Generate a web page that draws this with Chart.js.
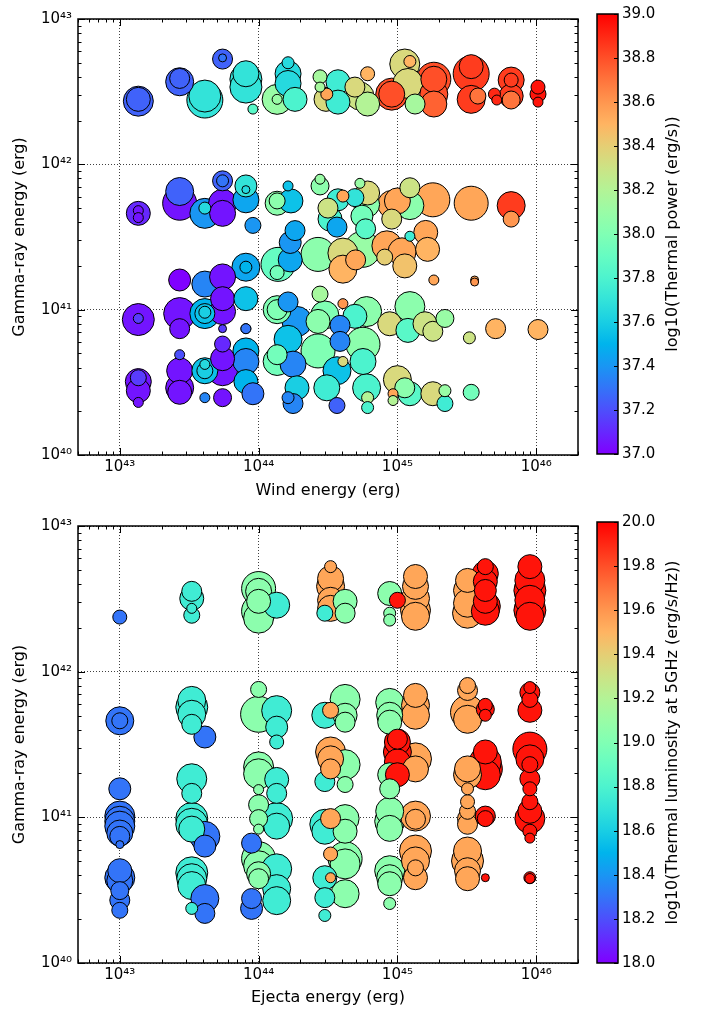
<!DOCTYPE html>
<html>
<head>
<meta charset="utf-8">
<script src="https://cdn.jsdelivr.net/npm/chart.js@4.4.1/dist/chart.umd.min.js"></script>
<style>
  html, body { margin: 0; padding: 0; background: #fff; }
  #page { position: relative; width: 703px; height: 1014px; }
  canvas { position: absolute; }
</style>
</head>
<body>
<div id="page">
  <canvas id="windChart" style="left:0;top:0" width="703" height="507"></canvas>
  <canvas id="windBar" style="left:560px;top:0" width="143" height="507"></canvas>
  <canvas id="ejectaChart" style="left:0;top:507px" width="703" height="507"></canvas>
  <canvas id="ejectaBar" style="left:560px;top:507px" width="143" height="507"></canvas>
</div>
<script>
// ---- top panel: wind energy vs gamma-ray energy, colour = log10 thermal power
var windEnergy = [
  1.36e43, 1.36e43, 2.7e43, 2.7e43, 4.1e43, 4.1e43, 5.5e43, 5.5e43, 8.1e43, 8.1e43, 8.1e43, 9.1e43,
  1.36e44, 1.36e44, 1.63e44, 1.63e44, 1.63e44, 1.83e44, 2.77e44, 2.77e44, 3.06e44, 3.1e44, 3.73e44, 3.73e44,
  4.94e44, 5.37e44, 6.1e44, 6.1e44, 9.1e44, 9.1e44, 1.13e45, 1.23e45, 1.19e45, 1.34e45,
  1.83e45, 1.83e45, 1.83e45, 1.83e45, 3.4e45, 3.4e45, 3.4e45, 3.8e45, 5.0e45, 5.2e45,
  6.6e45, 6.6e45, 6.6e45, 6.6e45, 1.03e46, 1.03e46, 1.03e46,
  1.36e43, 1.36e43, 1.36e43, 2.7e43, 2.7e43, 4.1e43, 4.1e43, 5.5e43, 5.5e43, 5.5e43, 5.5e43, 8.1e43, 8.1e43, 8.1e43, 9.1e43,
  1.36e44, 1.36e44, 1.63e44, 1.71e44, 1.83e44, 2.77e44, 2.77e44, 3.16e44, 3.73e44, 3.27e44, 4.05e44, 3.67e44, 4.94e44,
  5.55e44, 6.0e44, 6.1e44, 5.37e44, 9.1e44, 1.0e45, 9.1e44, 1.23e45, 1.23e45, 1.8e45, 3.4e45, 6.6e45, 6.6e45,
  2.7e43, 4.1e43, 5.5e43, 8.1e43, 8.1e43, 1.38e44, 1.36e44, 1.69e44, 1.69e44, 2.68e44, 4.05e44, 4.05e44,
  5.0e44, 5.6e44, 5.9e44, 8.4e44, 8.1e44, 1.08e45, 1.13e45, 1.23e45, 1.6e45, 1.65e45, 1.83e45, 3.6e45, 3.6e45,
  1.36e43, 1.36e43, 2.7e43, 2.7e43, 4.1e43, 4.1e43, 4.1e43, 5.5e43, 5.5e43, 8.1e43, 8.1e43,
  1.36e44, 1.36e44, 1.63e44, 1.89e44, 2.68e44, 3.0e44, 2.77e44, 3.86e44, 4.05e44, 4.94e44,
  6.0e44, 8.8e44, 1.19e45, 1.23e45, 1.58e45, 1.8e45, 2.2e45, 3.3e45, 5.1e45, 1.03e46,
  1.36e43, 1.36e43, 1.36e43, 1.36e43, 2.7e43, 2.7e43, 2.7e43, 2.7e43, 4.1e43, 4.1e43, 4.1e43, 4.1e43,
  5.5e43, 5.5e43, 5.5e43, 5.5e43, 5.5e43, 8.1e43, 8.1e43, 8.1e43, 8.1e43, 9.1e43, 1.36e44, 1.36e44,
  1.63e44, 1.77e44, 1.89e44, 1.63e44, 1.77e44,
  2.68e44, 3.86e44, 3.67e44, 4.05e44, 3.1e44, 3.67e44, 5.65e44, 5.65e44, 6.0e44, 6.1e44,
  6.1e44, 1.0e45, 9.3e44, 9.3e44, 1.23e45, 1.8e45, 2.2e45, 2.2e45, 3.4e45, 1.13e45
];
var gammaWind = [
  2.72e42, 2.8e42, 3.7e42, 3.9e42, 2.77e42, 2.95e42, 5.3e42, 5.4e42, 3.85e42, 3.4e42, 4.2e42, 2.4e42,
  2.8e42, 2.8e42, 4.2e42, 5.0e42, 3.6e42, 2.8e42, 4.0e42, 3.4e42, 2.8e42, 3.04e42, 3.7e42, 2.68e42,
  3.4e42, 2.95e42, 4.2e42, 2.6e42, 3.04e42, 3.04e42, 4.9e42, 5.1e42, 3.6e42, 2.6e42,
  3.85e42, 3.85e42, 3.04e42, 2.6e42, 4.2e42, 4.7e42, 2.8e42, 2.95e42, 3.04e42, 2.77e42,
  3.8e42, 3.8e42, 2.95e42, 2.77e42, 3.4e42, 3.04e42, 2.68e42,
  4.6e41, 4.8e41, 4.3e41, 5.4e41, 6.5e41, 4.6e41, 5.0e41, 7.7e41, 7.7e41, 5.4e41, 4.6e41, 7.1e41, 5.7e41, 6.7e41, 3.8e41,
  5.4e41, 5.6e41, 7.1e41, 5.6e41, 3.5e41, 7.1e41, 7.9e41, 5.0e41, 5.7e41, 4.2e41, 6.05e41, 3.7e41, 5.9e41,
  4.4e41, 5.3e41, 6.35e41, 7.4e41, 5.3e41, 5.6e41, 4.2e41, 5.2e41, 6.9e41, 5.7e41, 5.4e41, 5.2e41, 4.2e41,
  1.6e41, 1.5e41, 1.68e41, 1.96e41, 1.96e41, 2.05e41, 1.8e41, 2.9e41, 2.2e41, 2.4e41, 2.45e41, 1.9e41,
  2.2e41, 2.6e41, 3.6e41, 2.75e41, 2.3e41, 2.5e41, 2.0e41, 3.2e41, 3.4e41, 2.6e41, 1.6e41, 1.6e41, 1.55e41,
  8.55e40, 8.7e40, 9.4e40, 7.4e40, 9.4e40, 9.4e40, 9.6e40, 1.19e41, 9.7e40, 1.19e41, 7.4e40,
  1.0e41, 1.0e41, 1.13e41, 8.3e40, 8.3e40, 9.2e40, 1.28e41, 7.8e40, 1.1e41, 9.0e40,
  9.7e40, 8.0e40, 7.2e40, 1.05e41, 8.0e40, 7.1e40, 8.7e40, 6.4e40, 7.4e40, 7.3e40,
  3.2e40, 3.4e40, 2.77e40, 2.3e40, 4.9e40, 3.8e40, 2.9e40, 2.7e40, 3.8e40, 3.8e40, 4.2e40, 2.48e40,
  7.4e40, 5.8e40, 4.6e40, 3.8e40, 2.48e40, 5.2e40, 4.4e40, 3.2e40, 7.4e40, 2.64e40, 4.4e40, 4.9e40,
  6.25e40, 4.22e40, 2.9e40, 2.48e40, 2.26e40,
  5.2e40, 6.05e40, 3.8e40, 4.4e40, 2.9e40, 2.19e40, 5.78e40, 4.4e40, 2.9e40, 2.48e40,
  2.12e40, 3.3e40, 2.64e40, 2.37e40, 2.64e40, 2.64e40, 2.77e40, 2.26e40, 2.7e40, 2.9e40
];
var sizeWind = [
  15, 12, 14, 10, 18, 16, 10, 4, 16, 16, 13, 5,
  15, 5, 13, 6, 13, 12, 7, 5, 12, 6, 12, 12,
  10, 14, 7, 12, 16, 13, 15, 6, 15, 10,
  17, 13, 14, 13, 18, 12, 14, 8, 6, 5,
  13, 7, 12, 9, 7, 8, 5,
  12, 5, 5, 17, 14, 15, 6, 10, 6, 14, 13, 11, 13, 4, 8,
  12, 8, 5, 12, 10, 9, 5, 10, 11, 12, 6, 10, 9,
  11, 13, 12, 5, 14, 13, 10, 14, 10, 17, 17, 14, 8,
  11, 13, 13, 14, 6, 17, 7, 11, 12, 17, 15, 14,
  10, 18, 10, 15, 8, 14, 12, 5, 12, 12, 5, 4, 4,
  16, 5, 16, 10, 15, 10, 6, 12, 13, 12, 5,
  14, 10, 10, 15, 12, 14, 8, 10, 5, 12,
  15, 12, 12, 15, 12, 10, 9, 6, 10, 10,
  13, 8, 12, 5, 5, 13, 14, 12, 13, 8, 5, 5,
  4, 8, 12, 15, 9, 13, 13, 12, 5, 11, 14, 10,
  14, 13, 12, 6, 10,
  17, 10, 14, 5, 13, 8, 17, 13, 14, 6,
  6, 14, 5, 5, 12, 12, 6, 8, 8, 10
];
var thermalPower = [
  37.25, 37.25, 37.25, 37.25, 37.7, 37.7, 37.25, 37.3, 37.7, 37.7, 37.7, 37.85,
  38.1, 38.1, 37.65, 37.65, 37.65, 37.8, 38.15, 38.15, 38.35, 38.55, 37.75, 37.75,
  38.35, 38.3, 38.5, 38.2, 38.8, 38.8, 38.35, 38.5, 38.35, 38.15,
  38.8, 38.8, 38.8, 38.75, 38.85, 38.85, 38.85, 38.7, 38.9, 38.9,
  38.85, 38.85, 38.85, 38.7, 38.95, 38.95, 38.95,
  37.1, 37.05, 37.05, 37.05, 37.25, 37.4, 37.65, 37.25, 37.3, 37.05, 37.05, 37.7, 37.45, 37.65, 37.4,
  38.05, 38.05, 37.55, 37.55, 37.45, 38.05, 38.1, 38.3, 37.75, 37.8, 38.55, 37.45, 37.7,
  37.95, 38.05, 38.35, 38.1, 38.55, 38.55, 38.35, 38.05, 38.3, 38.55, 38.55, 38.85, 38.6,
  37.0, 37.35, 37.05, 37.45, 37.5, 37.9, 37.95, 37.4, 37.45, 38.05, 38.35, 38.5,
  38.55, 38.1, 37.85, 38.55, 38.4, 38.55, 38.45, 37.75, 38.55, 38.5, 38.55, 38.55, 38.6,
  37.05, 37.15, 37.05, 37.05, 37.5, 37.55, 37.6, 37.05, 37.05, 37.55, 37.4,
  38.0, 38.0, 37.4, 37.4, 38.05, 38.0, 38.15, 37.35, 38.6, 37.8,
  38.05, 38.35, 37.85, 38.05, 38.3, 38.3, 38.1, 38.3, 38.5, 38.5,
  37.05, 37.15, 37.05, 37.05, 37.2, 37.05, 37.05, 37.05, 37.55, 37.6, 37.65, 37.35,
  37.15, 37.1, 37.05, 37.05, 37.05, 37.5, 37.35, 37.5, 37.3, 37.3, 37.95, 37.95,
  37.55, 37.35, 37.6, 37.35, 37.35,
  38.0, 37.35, 37.55, 38.35, 37.75, 37.25, 38.05, 37.8, 37.8, 38.2,
  37.8, 38.35, 38.55, 38.2, 37.85, 38.35, 38.1, 37.75, 37.95, 38.05
];

// ---- bottom panel: ejecta energy columns, colour = log10 thermal luminosity at 5GHz
var ejectaLevels = [1e43, 3.3e43, 4.1e43, 8.9e43, 1e44, 1.35e44, 3.0e44, 3.3e44, 4.2e44, 8.8e44, 1e45, 1.35e45, 3.2e45, 4.3e45, 9e45];
var lumLevels = [18.3, 18.75, 18.3, 18.3, 19.05, 18.75, 18.75, 19.55, 19.05, 19.05, 19.95, 19.55, 19.55, 19.95, 19.95];
var gammaEjecta = [
  [2.37e42, 4.6e41, 4.6e41, 1.57e41, 1.02e41, 9.4e40, 8.7e40, 7.8e40, 7.4e40, 6.5e40, 4.3e40, 3.85e40, 3.67e40, 3.14e40, 2.7e40, 2.3e40],
  [3.56e42, 3.18e42, 2.72e42, 2.44e42, 6.35e41, 5.7e41, 5.1e41, 4.35e41, 1.84e41, 1.46e41, 9.8e40, 8.96e40, 8.3e40, 4.16e40, 3.79e40, 3.4e40, 2.37e40],
  [3.56e41, 7.4e40, 6.35e40, 2.77e40, 2.19e40],
  [6.65e40, 2.77e40, 2.37e40],
  [3.72e42, 3.56e42, 3.04e42, 2.6e42, 2.33e42, 7.55e41, 5.1e41, 2.22e41, 1.99e41, 1.55e41, 1.22e41, 9.8e40, 8.3e40, 5.2e40, 4.65e40, 4.1e40, 3.79e40],
  [2.86e42, 5.4e41, 4.16e41, 3.29e41, 1.82e41, 1.46e41, 9.8e40, 8.7e40, 4.43e40, 3.24e40, 2.68e40],
  [2.52e42, 5.02e41, 1.76e41, 8.96e40, 8.03e40, 3.85e40, 2.81e40, 2.12e40],
  [5.26e42, 4.35e42, 3.85e42, 3.09e42, 2.72e42, 5.43e41, 2.81e41, 2.52e41, 2.15e41, 9.8e40, 5.6e40, 3.85e40],
  [3.04e42, 2.52e42, 6.45e41, 5.02e41, 4.5e41, 2.3e41, 1.68e41, 9.8e40, 8.03e40, 5.2e40, 4.79e40, 2.99e40],
  [3.44e42, 2.52e42, 2.26e42, 6.15e41, 5.02e41, 4.5e41, 1.96e41, 1.57e41, 1.1e41, 9.4e40, 8.4e40, 4.3e40, 3.85e40, 3.5e40, 2.56e40],
  [3.09e42, 3.44e41, 3.29e41, 2.81e41, 2.4e41, 1.96e41],
  [4.5e42, 3.85e42, 3.18e42, 2.64e42, 2.4e42, 6.87e41, 5.87e41, 5.02e41, 2.52e41, 2.15e41, 1.02e41, 9.7e40, 5.87e40, 5.02e40, 4.5e40, 3.85e40],
  [4.23e42, 3.61e42, 2.95e42, 2.52e42, 8.03e41, 7.43e41, 5.26e41, 4.71e41, 2.15e41, 1.96e41, 1.57e41, 1.28e41, 1.1e41, 9.8e40, 8.96e40, 5.87e40, 5.02e40, 4.3e40, 3.79e40],
  [5.26e42, 4.71e42, 4.16e42, 3.61e42, 3.04e42, 2.81e42, 2.6e42, 5.87e41, 5.51e41, 5.02e41, 2.81e41, 2.4e41, 2.15e41, 1.96e41, 1.02e41, 9.8e40, 3.85e40],
  [5.26e42, 4.23e42, 3.61e42, 3.09e42, 2.64e42, 2.4e42, 7.78e41, 7.2e41, 6.45e41, 5.43e41, 2.94e41, 2.52e41, 2.3e41, 1.84e41, 1.57e41, 1.28e41, 1.1e41, 9.8e40, 8.03e40, 7.2e40, 3.85e40, 3.8e40]
];
var sizeEjecta = [
  [7, 14, 8, 11, 15, 15, 15, 13, 10, 4, 12, 15, 13, 9, 10, 8],
  [10, 12, 5, 8, 14, 16, 14, 10, 15, 10, 16, 16, 13, 16, 15, 14, 6],
  [11, 15, 11, 14, 10],
  [10, 10, 11],
  [17, 13, 12, 17, 15, 8, 18, 15, 15, 5, 10, 9, 5, 17, 15, 12, 10],
  [13, 15, 11, 7, 12, 10, 16, 13, 15, 14, 14],
  [8, 13, 10, 15, 13, 12, 10, 6],
  [6, 13, 14, 13, 13, 8, 15, 13, 10, 10, 7, 5],
  [12, 10, 15, 12, 10, 15, 8, 14, 12, 17, 15, 14],
  [12, 6, 6, 14, 13, 12, 12, 10, 14, 15, 13, 15, 13, 12, 6],
  [8, 10, 13, 14, 13, 12],
  [12, 13, 14, 15, 14, 12, 14, 14, 16, 13, 15, 10, 16, 14, 8, 12],
  [12, 14, 14, 15, 8, 10, 17, 14, 13, 14, 6, 7, 8, 10, 10, 14, 16, 13, 12],
  [8, 13, 12, 11, 12, 15, 14, 7, 9, 6, 12, 16, 17, 15, 10, 8, 4],
  [12, 15, 16, 15, 16, 14, 6, 10, 8, 12, 17, 14, 8, 10, 7, 8, 12, 15, 7, 5, 6, 5]
];

var FONT = "'DejaVu Sans', 'Liberation Sans', sans-serif";
var SUP = { '0': '\u2070', '1': '\u00b9', '2': '\u00b2', '3': '\u00b3', '4': '\u2074', '5': '\u2075', '6': '\u2076', '7': '\u2077', '8': '\u2078', '9': '\u2079' };

// matplotlib "rainbow" colormap
function rainbow(t) {
  t = Math.min(1, Math.max(0, t));
  var r = Math.min(1, Math.abs(2 * t - 0.5));
  var g = Math.sin(Math.PI * t);
  var b = Math.max(0, Math.cos(Math.PI * t / 2));
  return 'rgb(' + Math.round(r * 255) + ',' + Math.round(g * 255) + ',' + Math.round(b * 255) + ')';
}

function powLabel(v) {
  var e = String(Math.round(Math.log10(v)));
  return '10' + e.split('').map(function (d) { return SUP[d]; }).join('');
}

// ticks at k*10^n like matplotlib, majors at decades
function logTicks(scale) {
  var ticks = [];
  var lo = Math.floor(Math.log10(scale.min)), hi = Math.ceil(Math.log10(scale.max));
  for (var e = lo; e <= hi; e++) {
    for (var k = 1; k <= 9; k++) {
      var v = k * Math.pow(10, e);
      if (v >= scale.min * 0.999999 && v <= scale.max * 1.000001) ticks.push({ value: v, major: k === 1 });
    }
  }
  scale.ticks = ticks;
}

var framePlugin = {
  id: 'frame',
  afterDraw: function (chart) {
    var ctx = chart.ctx, a = chart.chartArea;
    var xs = chart.scales.x, ys = chart.scales.y;
    ctx.save();
    ctx.strokeStyle = '#000';
    ctx.lineWidth = 1;
    ctx.beginPath();
    xs.ticks.forEach(function (t) {
      var p = Math.round(xs.getPixelForValue(t.value)) + 0.5;
      var len = t.major ? 7 : 3.5;
      ctx.moveTo(p, a.bottom); ctx.lineTo(p, a.bottom - len);
      ctx.moveTo(p, a.top); ctx.lineTo(p, a.top + len);
    });
    ys.ticks.forEach(function (t) {
      var p = Math.round(ys.getPixelForValue(t.value)) + 0.5;
      var len = t.major ? 7 : 3.5;
      ctx.moveTo(a.left, p); ctx.lineTo(a.left + len, p);
      ctx.moveTo(a.right, p); ctx.lineTo(a.right - len, p);
    });
    ctx.stroke();
    ctx.lineWidth = 1.5;
    ctx.strokeRect(a.left, a.top, a.right - a.left, a.bottom - a.top);
    ctx.restore();
  }
};

function axisOpts(min, max, title, isX, size, titlePad) {
  return {
    type: 'logarithmic', min: min, max: max, z: 1,
    afterBuildTicks: logTicks,
    afterFit: function (s) { if (isX) s.height = size; else s.width = size; },
    ticks: {
      autoSkip: false, maxRotation: 0, padding: isX ? 3 : 6, color: '#000',
      font: { family: FONT, size: 15 },
      callback: function (v, i, t) { return t[i].major ? powLabel(v) : ''; }
    },
    grid: {
      drawTicks: false, lineWidth: 1,
      color: function (c) { return c.tick && c.tick.major ? 'rgba(0,0,0,0.75)' : 'rgba(0,0,0,0)'; }
    },
    border: { display: false, dash: [1, 2] },
    title: { display: true, text: title, color: '#000', font: { family: FONT, size: 16 }, padding: titlePad }
  };
}

function bubbleChart(id, xs, ys, rs, cs, cmin, cmax, xTitle, padTop, xHeight) {
  var order = rs.map(function (r, i) { return i; }).sort(function (a, b) { return rs[b] - rs[a]; });
  return new Chart(document.getElementById(id), {
    type: 'bubble',
    data: {
      datasets: [{
        data: order.map(function (i) { return { x: xs[i], y: ys[i], r: rs[i] }; }),
        backgroundColor: order.map(function (i) { return rainbow((cs[i] - cmin) / (cmax - cmin)); }),
        borderColor: '#000', borderWidth: 1, hoverRadius: 0
      }]
    },
    options: {
      responsive: false, animation: false, events: [],
      layout: { padding: { left: 0, top: padTop, right: 125, bottom: 0 } },
      plugins: { legend: { display: false }, tooltip: { enabled: false } },
      scales: {
        x: axisOpts(5e42, 2e46, xTitle, true, xHeight, { top: 0, bottom: 7 }),
        y: axisOpts(1e40, 1e43, 'Gamma-ray energy (erg)', false, 78, { top: 10, bottom: 0 })
      }
    },
    plugins: [framePlugin]
  });
}

function colorbar(id, lo, hi, title, padTop, padBottom) {
  var cbPlugin = {
    id: 'cbar',
    afterDraw: function (chart) {
      var ctx = chart.ctx, a = chart.chartArea, ys = chart.scales.y;
      ctx.save();
      ctx.strokeStyle = '#000';
      ctx.lineWidth = 1;
      ctx.beginPath();
      ys.ticks.forEach(function (t) {
        var p = Math.round(ys.getPixelForValue(t.value)) + 0.5;
        ctx.moveTo(a.right, p); ctx.lineTo(a.right - 4, p);
      });
      ctx.stroke();
      ctx.lineWidth = 1.5;
      ctx.strokeRect(a.left, a.top, a.right - a.left, a.bottom - a.top);
      ctx.translate(a.right + 55, (a.top + a.bottom) / 2);
      ctx.rotate(-Math.PI / 2);
      ctx.font = '16px ' + FONT;
      ctx.fillStyle = '#000';
      ctx.textAlign = 'center';
      ctx.textBaseline = 'middle';
      ctx.fillText(title, 0, 0);
      ctx.restore();
    }
  };
  return new Chart(document.getElementById(id), {
    type: 'bar',
    data: {
      labels: [''],
      datasets: [{
        data: [[lo, hi]],
        backgroundColor: function (c) {
          var ch = c.chart, a = ch.chartArea;
          if (!a) return 'rgba(0,0,0,0)';
          var g = ch.ctx.createLinearGradient(0, a.bottom, 0, a.top);
          for (var i = 0; i <= 20; i++) g.addColorStop(i / 20, rainbow(i / 20));
          return g;
        },
        borderWidth: 0, barPercentage: 1, categoryPercentage: 1
      }]
    },
    options: {
      responsive: false, animation: false, events: [],
      layout: { padding: { left: 37, top: padTop, right: 0, bottom: padBottom } },
      plugins: { legend: { display: false }, tooltip: { enabled: false } },
      scales: {
        x: { display: false },
        y: {
          position: 'right', min: lo, max: hi,
          afterFit: function (s) { s.width = 85; },
          ticks: { stepSize: 0.2, padding: 4, color: '#000', font: { family: FONT, size: 15 },
                   callback: function (v) { return v.toFixed(1); } },
          grid: { display: false, drawTicks: false },
          border: { display: false }
        }
      }
    },
    plugins: [cbPlugin]
  });
}

// flatten the ejecta columns
var ejectaX = [], ejectaY = [], ejectaR = [], ejectaC = [];
ejectaLevels.forEach(function (e, k) {
  gammaEjecta[k].forEach(function (g, j) {
    ejectaX.push(e); ejectaY.push(g); ejectaR.push(sizeEjecta[k][j]); ejectaC.push(lumLevels[k]);
  });
});

bubbleChart('windChart', windEnergy, gammaWind, sizeWind, thermalPower, 37, 39, 'Wind energy (erg)', 14, 52);
colorbar('windBar', 37, 39, 'log10(Thermal power (erg/s))', 14, 53);
bubbleChart('ejectaChart', ejectaX, ejectaY, ejectaR, ejectaC, 18, 20, 'Ejecta energy (erg)', 15, 51);
colorbar('ejectaBar', 18, 20, 'log10(Thermal luminosity at 5GHz (erg/s/Hz))', 15, 51);
</script>
</body>
</html>
